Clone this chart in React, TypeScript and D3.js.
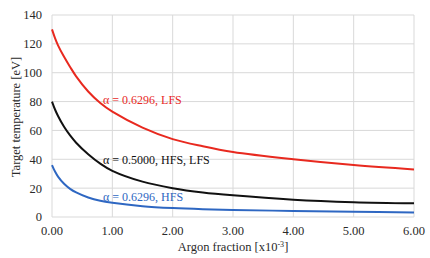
import React from "react";
import * as d3 from "d3";

const xVals = [0, 0.05, 0.1, 0.2, 0.3, 0.4, 0.6, 0.8, 1.0, 1.5, 2.0, 2.5, 3.0, 4.0, 5.0, 6.0];
const redLFS = [130, 124, 119, 111, 104, 97.5, 87, 79, 73, 62, 54, 49, 45, 40, 36, 33];
const blackHFSLFS = [80, 74.5, 70, 62.5, 56.5, 51.5, 43.5, 37, 32, 24.5, 20, 17, 15, 12, 10.3, 9.5];
const blueHFS = [36, 31.5, 28, 23, 19.5, 17, 13.5, 11.2, 9.8, 7.5, 6.2, 5.4, 4.9, 4.2, 3.7, 3.2];
const xTicks = [0, 1, 2, 3, 4, 5, 6];
const yTicks = [0, 20, 40, 60, 80, 100, 120, 140];
const seriesLabels = ["α = 0.6296, LFS", "α = 0.5000, HFS, LFS", "α = 0.6296, HFS"];

const W = 430, H = 258;
const m = { left: 52, right: 16, top: 15, bottom: 41 };

export default function App() {
  const x = d3.scaleLinear().domain([0, 6]).range([m.left, W - m.right]);
  const y = d3.scaleLinear().domain([0, 140]).range([H - m.bottom, m.top]);
  const line = d3
    .line<number>()
    .x((_, i) => x(xVals[i]))
    .y((d) => y(d))
    .curve(d3.curveCatmullRom.alpha(0.5));
  const series = [
    { data: redLFS, color: "#e8291f", label: seriesLabels[0], ly: 100 },
    { data: blackHFSLFS, color: "#111111", label: seriesLabels[1], ly: 160 },
    { data: blueHFS, color: "#2e67c2", label: seriesLabels[2], ly: 196.5 },
  ];
  const font = { fontFamily: "Liberation Serif" };
  return (
    <svg width={W} height={H} style={{ position: "absolute", left: 0, top: 0, background: "#fff" }}>
      {yTicks.map((t) => (
        <line key={"gy" + t} x1={x(0)} x2={x(6)} y1={y(t)} y2={y(t)} stroke="#d9d9d9" strokeWidth={1} />
      ))}
      {xTicks.map((t) => (
        <line key={"gx" + t} x1={x(t)} x2={x(t)} y1={y(0)} y2={y(140)} stroke="#d9d9d9" strokeWidth={1} />
      ))}
      {yTicks.map((t) => (
        <text key={"ty" + t} style={font} x={42} y={y(t)} dy="0.35em" textAnchor="end" fontSize={12.5} fill="#2a2a2a">
          {t}
        </text>
      ))}
      {xTicks.map((t) => (
        <text key={"tx" + t} style={font} x={x(t)} y={231} dy="0.35em" textAnchor="middle" fontSize={12.5} fill="#2a2a2a">
          {t.toFixed(2)}
        </text>
      ))}
      {series.map((s) => (
        <path key={s.label + "p"} d={line(s.data) || ""} fill="none" stroke={s.color} strokeWidth={2} />
      ))}
      {series.map((s) => (
        <text key={s.label} style={font} x={103} y={s.ly} dy="0.35em" fontSize={12} fill={s.color}>
          {s.label}
        </text>
      ))}
      <text style={font} x={233} y={247} dy="0.35em" textAnchor="middle" fontSize={12.5} fill="#2a2a2a">
        Argon fraction [x10<tspan dy="-4" fontSize={8}>-3</tspan><tspan dy="4">]</tspan>
      </text>
      <text
        style={font}
        transform={`translate(16,117) rotate(-90)`}
        textAnchor="middle"
        dy="0.35em"
        fontSize={12.5}
        fill="#2a2a2a"
      >
        Target temperature [eV]
      </text>
    </svg>
  );
}
